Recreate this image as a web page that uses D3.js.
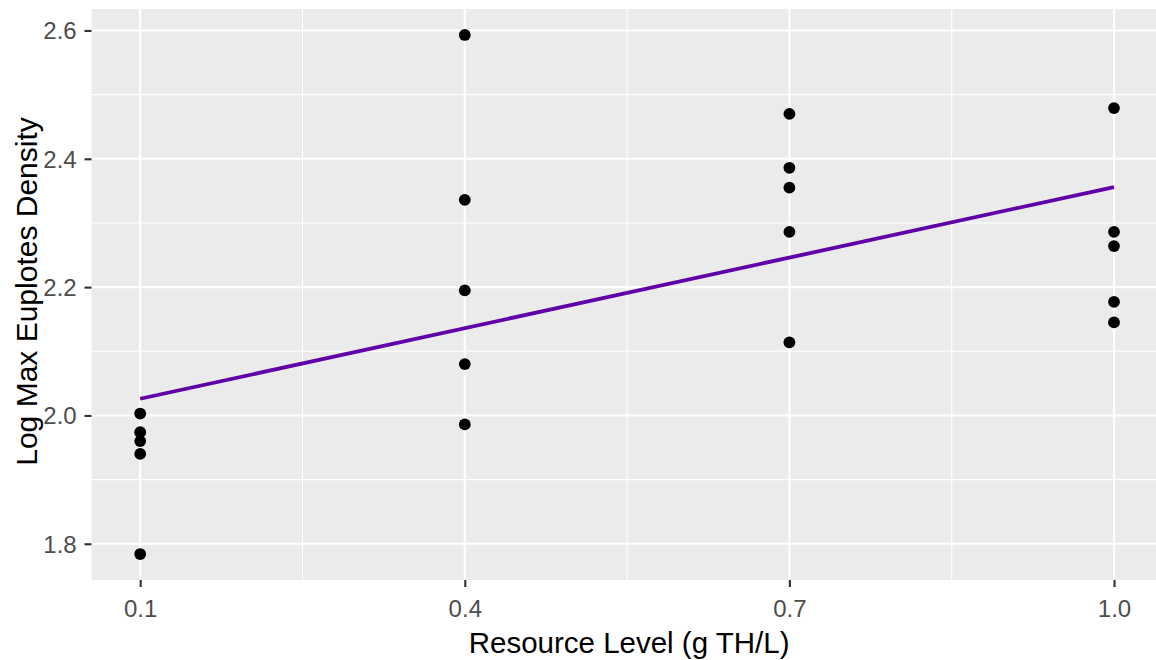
<!DOCTYPE html>
<html>
<head>
<meta charset="utf-8">
<script src="https://cdn.jsdelivr.net/npm/d3@7"></script>
<style>
  html, body { margin: 0; padding: 0; background: #ffffff; }
  svg { display: block; font-family: Arial, "Liberation Sans", Helvetica, sans-serif; }
</style>
</head>
<body>
<svg id="chart" width="1156" height="660"></svg>
<script>
// Observations: resource level (g TH/L) and log max Euplotes density
const resourceLevel = [0.1, 0.1, 0.1, 0.1, 0.1,
                       0.4, 0.4, 0.4, 0.4, 0.4,
                       0.7, 0.7, 0.7, 0.7, 0.7,
                       1.0, 1.0, 1.0, 1.0, 1.0];
const logMaxDensity = [2.003, 1.974, 1.960, 1.940, 1.784,
                       2.593, 2.336, 2.195, 2.080, 1.986,
                       2.470, 2.386, 2.355, 2.286, 2.114,
                       2.479, 2.286, 2.264, 2.177, 2.145];

// Fitted trend line (model prediction at the ends of the range)
const fitX = [0.1, 1.0];
const fitY = [2.026, 2.356];

// Axis breaks
const xBreaks = [0.1, 0.4, 0.7, 1.0];
const xMinorBreaks = [0.25, 0.55, 0.85];
const yBreaks = [1.8, 2.0, 2.2, 2.4, 2.6];
const yMinorBreaks = [1.9, 2.1, 2.3, 2.5];

const svg = d3.select("#chart");

const panel = { left: 91.5, right: 1162.7, top: 9, bottom: 580 };

// ggplot-style 5% expansion of the data range
function expand(lo, hi) {
  const pad = (hi - lo) * 0.05;
  return [lo - pad, hi + pad];
}

const x = d3.scaleLinear()
  .domain(expand(d3.min(resourceLevel), d3.max(resourceLevel)))
  .range([panel.left, panel.right]);

const y = d3.scaleLinear()
  .domain(expand(d3.min(logMaxDensity), d3.max(logMaxDensity)))
  .range([panel.bottom, panel.top]);

// Panel background
svg.append("rect")
  .attr("x", panel.left).attr("y", panel.top)
  .attr("width", panel.right - panel.left)
  .attr("height", panel.bottom - panel.top)
  .attr("fill", "#EBEBEB");

const grid = svg.append("g");

// Minor grid
grid.selectAll("line.ymin").data(yMinorBreaks).join("line")
  .attr("x1", panel.left).attr("x2", panel.right)
  .attr("y1", d => y(d)).attr("y2", d => y(d))
  .attr("stroke", "#ffffff").attr("stroke-width", 1.07);
grid.selectAll("line.xmin").data(xMinorBreaks).join("line")
  .attr("y1", panel.top).attr("y2", panel.bottom)
  .attr("x1", d => x(d)).attr("x2", d => x(d))
  .attr("stroke", "#ffffff").attr("stroke-width", 1.07);

// Major grid
grid.selectAll("line.ymaj").data(yBreaks).join("line")
  .attr("x1", panel.left).attr("x2", panel.right)
  .attr("y1", d => y(d)).attr("y2", d => y(d))
  .attr("stroke", "#ffffff").attr("stroke-width", 2.13);
grid.selectAll("line.xmaj").data(xBreaks).join("line")
  .attr("y1", panel.top).attr("y2", panel.bottom)
  .attr("x1", d => x(d)).attr("x2", d => x(d))
  .attr("stroke", "#ffffff").attr("stroke-width", 2.13);

// Points
svg.append("g").selectAll("circle")
  .data(resourceLevel.map((r, i) => ({ r, v: logMaxDensity[i] })))
  .join("circle")
  .attr("cx", d => x(d.r))
  .attr("cy", d => y(d.v))
  .attr("r", 5.9)
  .attr("fill", "#000000");

// Fitted line
const line = d3.line().x(d => x(d[0])).y(d => y(d[1]));
svg.append("path")
  .datum(fitX.map((v, i) => [v, fitY[i]]))
  .attr("d", line)
  .attr("fill", "none")
  .attr("stroke", "#6000A8")
  .attr("stroke-width", 3.8)
  .attr("stroke-linecap", "butt");

// Axes
const xAxis = d3.axisBottom(x)
  .tickValues(xBreaks)
  .tickFormat(d3.format(".1f"))
  .tickSizeInner(7).tickSizeOuter(0).tickPadding(13);
const gx = svg.append("g")
  .attr("transform", `translate(0,${panel.bottom})`)
  .call(xAxis);
gx.select(".domain").remove();
gx.selectAll(".tick line").attr("stroke", "#333333").attr("stroke-width", 2.13);
gx.selectAll(".tick text")
  .attr("fill", "#4D4D4D")
  .attr("font-size", 24)
  .attr("font-family", "Arial, 'Liberation Sans', sans-serif")
  .attr("dy", "0.71em");

const yAxis = d3.axisLeft(y)
  .tickValues(yBreaks)
  .tickFormat(d3.format(".1f"))
  .tickSizeInner(7).tickSizeOuter(0).tickPadding(7.8);
const gy = svg.append("g")
  .attr("transform", `translate(${panel.left},0)`)
  .call(yAxis);
gy.select(".domain").remove();
gy.selectAll(".tick line").attr("stroke", "#333333").attr("stroke-width", 2.13);
gy.selectAll(".tick text")
  .attr("fill", "#4D4D4D")
  .attr("font-size", 24)
  .attr("font-family", "Arial, 'Liberation Sans', sans-serif")
  .attr("dy", "0.35em");

// Axis titles
svg.append("text")
  .attr("x", (panel.left + panel.right) / 2 + 2)
  .attr("y", 653)
  .attr("text-anchor", "middle")
  .attr("font-size", 29.5)
  .attr("fill", "#000000")
  .text("Resource Level (g TH/L)");

svg.append("text")
  .attr("transform", `translate(36.5,${(panel.top + panel.bottom) / 2 - 3}) rotate(-90)`)
  .attr("text-anchor", "middle")
  .attr("font-size", 30)
  .attr("fill", "#000000")
  .text("Log Max Euplotes Density");
</script>
</body>
</html>
